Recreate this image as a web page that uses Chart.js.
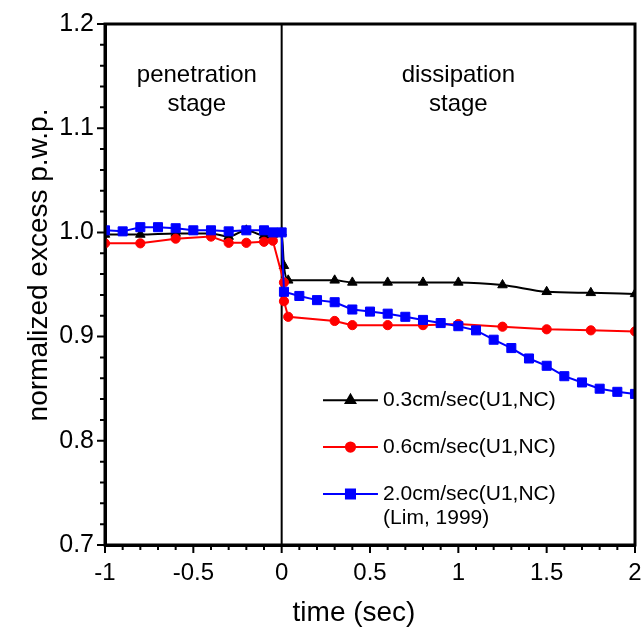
<!DOCTYPE html>
<html>
<head>
<meta charset="utf-8">
<script src="https://cdn.jsdelivr.net/npm/chart.js@4.4.1/dist/chart.umd.min.js"></script>
<style>
  html, body { margin: 0; padding: 0; background: #fff; }
  #wrap { width: 644px; height: 635px; }
</style>
</head>
<body>
<div id="wrap"><canvas id="chart"></canvas></div>
<script>
// time (sec) and normalized excess p.w.p. for each penetration rate
const time03 = [-1, -0.8, -0.6, -0.4, -0.3, -0.2, -0.1, -0.05, 0, 0.013, 0.037, 0.3, 0.4, 0.6, 0.8, 1.0, 1.25, 1.5, 1.75, 2.0];
const pwp03  = [0.998, 0.998, 0.999, 0.999, 0.996, 1.002, 0.997, 0.998, 1.0, 0.968, 0.954, 0.954, 0.952, 0.952, 0.952, 0.952, 0.9495, 0.943, 0.942, 0.941];

const time06 = [-1, -0.8, -0.6, -0.4, -0.3, -0.2, -0.1, -0.05, 0.013, 0.013, 0.037, 0.3, 0.4, 0.6, 0.8, 1.0, 1.25, 1.5, 1.75, 2.0];
const pwp06  = [0.9895, 0.9895, 0.994, 0.996, 0.990, 0.990, 0.991, 0.992, 0.952, 0.934, 0.919, 0.915, 0.911, 0.911, 0.911, 0.912, 0.9095, 0.907, 0.906, 0.905];

const time20 = [-1, -0.9, -0.8, -0.7, -0.6, -0.5, -0.4, -0.3, -0.2, -0.1, -0.05, 0, 0.013, 0.1, 0.2, 0.3, 0.4, 0.5, 0.6, 0.7, 0.8, 0.9, 1.0, 1.1, 1.2, 1.3, 1.4, 1.5, 1.6, 1.7, 1.8, 1.9, 2.0];
const pwp20  = [1.002, 1.001, 1.005, 1.005, 1.004, 1.002, 1.002, 1.001, 1.002, 1.002, 1.0, 1.0, 0.943, 0.939, 0.935, 0.933, 0.926, 0.924, 0.922, 0.919, 0.916, 0.913, 0.910, 0.906, 0.897, 0.889, 0.879, 0.872, 0.862, 0.856, 0.850, 0.847, 0.845];

const seriesLabels = [['0.3cm/sec(U1,NC)'], ['0.6cm/sec(U1,NC)'], ['2.0cm/sec(U1,NC)', '(Lim, 1999)']];
const xTickLabels = [-1, -0.5, 0, 0.5, 1, 1.5, 2];
const yTickLabels = [0.7, 0.8, 0.9, 1.0, 1.1, 1.2];

const FONT = '"Liberation Sans", Arial, sans-serif';

function pts(xs, ys) {
  return xs.map((x, i) => ({ x: x, y: ys[i] }));
}

function mkSet(label, xs, ys, color, style, r, order) {
  return {
    label: label,
    data: pts(xs, ys),
    borderColor: color,
    backgroundColor: color,
    borderWidth: 2,
    pointStyle: style,
    pointRadius: r,
    pointBorderWidth: 1,
    pointBackgroundColor: color,
    pointBorderColor: color,
    tension: 0,
    order: order
  };
}

const datasets = [
  mkSet(seriesLabels[0], time03, pwp03, '#000000', 'triangle', 5.5, 2),
  mkSet(seriesLabels[1], time06, pwp06, '#ff0000', 'circle', 4.6, 1),
  mkSet(seriesLabels[2], time20, pwp20, '#0000ff', 'rect', 6.4, 0)
];
datasets[0].cubicInterpolationMode = 'monotone';

// major ticks are a bit longer than the minor ones
function tickLen(v, labels) {
  return labels.some(t => Math.abs(t - v) < 1e-6) ? 8 : 5;
}

// zero line, frame, major ticks, stage notes, legend and axis titles
const extras = {
  id: 'extras',
  beforeDatasetsDraw(chart) {
    const { ctx, chartArea: a, scales: { x } } = chart;
    const px = x.getPixelForValue(0);
    ctx.save();
    ctx.strokeStyle = '#000';
    ctx.lineWidth = 2;
    ctx.beginPath();
    ctx.moveTo(px, a.top);
    ctx.lineTo(px, a.bottom);
    ctx.stroke();
    ctx.restore();
  },
  afterDraw(chart) {
    const { ctx, chartArea: a, scales: { x, y } } = chart;
    ctx.save();
    ctx.strokeStyle = '#000';
    ctx.lineWidth = 3;
    ctx.strokeRect(a.left, a.top, a.right - a.left, a.bottom - a.top);

    ctx.lineWidth = 2;
    ctx.beginPath();
    x.ticks.forEach(t => {
      const px = x.getPixelForValue(t.value);
      ctx.moveTo(px, a.bottom);
      ctx.lineTo(px, a.bottom + tickLen(t.value, xTickLabels));
    });
    y.ticks.forEach(t => {
      const py = y.getPixelForValue(t.value);
      ctx.moveTo(a.left, py);
      ctx.lineTo(a.left - tickLen(t.value, yTickLabels), py);
    });
    ctx.stroke();

    ctx.fillStyle = '#000';
    ctx.textAlign = 'center';
    ctx.textBaseline = 'middle';
    ctx.font = '24px ' + FONT;
    ctx.fillText('penetration', x.getPixelForValue(-0.48), y.getPixelForValue(1.151));
    ctx.fillText('stage', x.getPixelForValue(-0.48), y.getPixelForValue(1.123));
    ctx.fillText('dissipation', x.getPixelForValue(1.0), y.getPixelForValue(1.151));
    ctx.fillText('stage', x.getPixelForValue(1.0), y.getPixelForValue(1.123));

    // legend
    const rows = [0.839, 0.794, 0.749];
    ctx.font = '21px ' + FONT;
    ctx.textAlign = 'left';
    chart.data.datasets.forEach((ds, i) => {
      const cy = y.getPixelForValue(rows[i]);
      const x0 = x.getPixelForValue(0.234), x1 = x.getPixelForValue(0.545);
      ctx.strokeStyle = ds.borderColor;
      ctx.lineWidth = 2;
      ctx.beginPath();
      ctx.moveTo(x0, cy);
      ctx.lineTo(x1, cy);
      ctx.stroke();
      ctx.fillStyle = ds.borderColor;
      Chart.helpers.drawPoint(ctx, { pointStyle: ds.pointStyle, radius: ds.pointRadius, borderWidth: 1, rotation: 0 }, (x0 + x1) / 2, cy);
      ctx.fillStyle = '#000';
      ds.label.forEach((t, k) => {
        ctx.fillText(t, x.getPixelForValue(0.574), cy + k * 24);
      });
    });

    // axis titles
    ctx.font = '28px ' + FONT;
    ctx.textAlign = 'center';
    ctx.fillText('time (sec)', 354, 613);
    ctx.translate(39, 265);
    ctx.rotate(-Math.PI / 2);
    ctx.fillText('normalized excess p.w.p.', 0, 0);
    ctx.restore();
  }
};

new Chart(document.getElementById('chart'), {
  type: 'line',
  data: { datasets: datasets },
  options: {
    responsive: true,
    maintainAspectRatio: false,
    animation: false,
    layout: { padding: { top: 24, right: 9, left: 0, bottom: 0 } },
    plugins: { legend: { display: false }, tooltip: { enabled: false } },
    scales: {
      x: {
        type: 'linear',
        min: -1,
        max: 2,
        ticks: {
          stepSize: 0.1,
          autoSkip: false,
          maxRotation: 0,
          padding: 14,
          color: '#000',
          font: { family: FONT, size: 24 },
          callback: (v) => {
            const hit = xTickLabels.find(t => Math.abs(t - v) < 1e-6);
            return hit === undefined ? '' : String(hit);
          }
        },
        grid: { drawOnChartArea: false, drawTicks: false, tickLength: 6 },
        border: { color: '#000', width: 3 },
        afterFit(s) { s.height = 90; s.paddingLeft = 0; s.paddingRight = 0; }
      },
      y: {
        min: 0.7,
        max: 1.2,
        ticks: {
          stepSize: 0.02,
          autoSkip: false,
          padding: 11,
          color: '#000',
          font: { family: FONT, size: 25 },
          callback: (v) => {
            const hit = yTickLabels.find(t => Math.abs(t - v) < 1e-6);
            return hit === undefined ? '' : hit.toFixed(1);
          }
        },
        grid: { drawOnChartArea: false, drawTicks: false, tickLength: 6 },
        border: { color: '#000', width: 3 },
        afterFit(s) { s.width = 105; s.paddingTop = 0; s.paddingBottom = 0; }
      }
    }
  },
  plugins: [extras]
});
</script>
</body>
</html>
